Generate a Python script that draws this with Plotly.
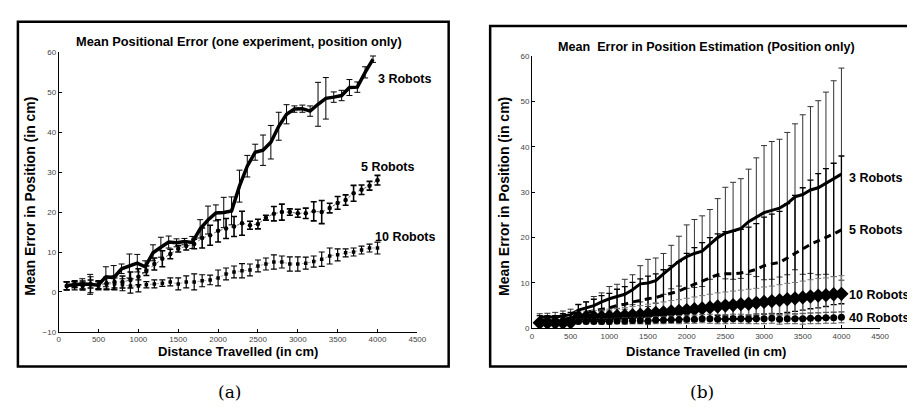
import plotly.graph_objects as go

W, H = 915, 412

# ---------------- data: panel (a) ----------------
x_a3 = [99, 197, 296, 394, 493, 592, 690, 789, 887, 986, 1085, 1183, 1282, 1380, 1479, 1578, 1676, 1775,
        1873, 1972, 2071, 2169, 2268, 2366, 2465, 2564, 2662, 2761, 2859, 2958, 3057, 3155, 3254, 3352,
        3451, 3550, 3648, 3747, 3845, 3944]
y_a3 = [1.6, 1.8, 2.0, 1.9, 1.7, 3.8, 3.6, 5.8, 6.5, 7.2, 6.3, 9.8, 11.2, 12.5, 12.3, 12.6, 12.4, 15.8,
        18.0, 19.8, 19.9, 20.3, 26.5, 31.5, 35.0, 35.5, 37.5, 41.5, 44.5, 45.8, 45.9, 45.3, 47.0, 48.5,
        48.8, 49.2, 51.2, 51.3, 55.0, 58.3]
e_a3 = [1.0, 0.8, 1.3, 2.5, 1.0, 2.5, 3.0, 1.2, 3.0, 2.2, 1.5, 2.0, 2.5, 1.5, 1.0, 0.8, 1.5, 2.3,
        3.5, 2.0, 3.8, 3.5, 4.0, 2.7, 2.0, 3.8, 4.2, 3.5, 2.4, 0.8, 0.9, 1.3, 5.5, 5.2,
        1.3, 1.3, 2.0, 1.3, 1.4, 0.8]

x_a = [100, 200, 300, 400, 500, 600, 700, 800, 900, 1000, 1100, 1200, 1300, 1400, 1500, 1600, 1700,
       1800, 1900, 2000, 2100, 2200, 2300, 2400, 2500, 2600, 2700, 2800, 2900, 3000, 3100, 3200, 3300,
       3400, 3500, 3600, 3700, 3800, 3900, 4000]
y_a5 = [1.5, 2.0, 1.5, 2.0, 1.8, 2.2, 2.5, 2.5, 3.0, 3.8, 5.3, 7.0, 8.3, 9.5, 10.8, 11.5, 12.0,
        13.5, 14.2, 15.3, 15.9, 16.4, 17.2, 16.7, 17.0, 18.6, 19.6, 20.0, 20.0, 19.7, 19.7, 20.2, 20.0,
        21.0, 22.3, 23.0, 24.7, 25.6, 26.6, 28.0]
e_a5 = [1.0, 0.8, 1.0, 1.0, 1.0, 1.5, 1.5, 1.5, 2.0, 2.0, 1.2, 1.5, 2.0, 1.2, 0.8, 1.0, 1.2,
        2.5, 2.5, 2.8, 2.5, 2.5, 3.0, 1.0, 1.2, 0.6, 1.8, 2.0, 0.8, 1.0, 1.3, 2.4, 2.9,
        1.2, 1.6, 1.3, 2.0, 1.2, 1.1, 1.2]
y_a10 = [1.5, 1.5, 1.8, 1.8, 1.5, 2.0, 2.0, 1.8, 1.5, 1.5, 1.8, 2.0, 2.2, 2.5, 2.0, 2.5, 2.5,
         2.8, 3.0, 3.5, 4.5, 5.0, 5.3, 5.5, 6.5, 7.0, 7.5, 7.5, 7.0, 7.0, 7.2, 7.6, 8.2,
         9.0, 9.3, 9.8, 10.0, 10.5, 11.0, 11.0]
e_a10 = [1.0, 1.0, 1.0, 2.0, 1.0, 1.5, 1.5, 1.5, 1.8, 1.5, 0.8, 1.0, 0.8, 1.0, 1.5, 1.5, 2.0,
         1.5, 1.2, 2.0, 1.5, 1.5, 1.8, 1.5, 1.5, 1.5, 1.8, 1.5, 1.8, 1.8, 1.5, 1.4, 1.8,
         2.0, 1.5, 1.0, 1.0, 1.0, 1.0, 1.5]

# ---------------- data: panel (b) ----------------
x_b = x_a
y_b3 = [2.5, 2.5, 2.5, 2.7, 3.0, 4.0, 4.5, 5.0, 5.8, 6.5, 7.0, 7.5, 8.5, 9.8, 10.0, 10.5, 12.0, 13.5,
        14.8, 15.8, 16.5, 17.0, 18.5, 20.0, 21.0, 21.5, 22.0, 23.5, 24.5, 25.5, 26.0, 26.5, 27.5, 29.0,
        29.5, 30.5, 31.0, 32.0, 33.0, 34.0]
e_b3 = [0.7, 0.8, 1.0, 1.1, 1.2, 1.3, 1.3, 2.0, 2.0, 2.7, 2.7, 3.3, 3.3, 4.0, 5.2, 5.0, 4.5, 4.8,
        5.5, 7.0, 7.5, 7.8, 7.7, 8.6, 10.1, 10.7, 11.0, 11.6, 13.1, 14.8, 15.2, 15.2, 15.7, 16.1,
        17.6, 18.4, 19.2, 20.1, 21.6, 23.4]
y_b5 = [1.8, 1.8, 1.8, 2.0, 2.2, 3.2, 3.5, 3.8, 4.2, 4.5, 5.0, 5.3, 5.8, 6.2, 6.5, 6.8, 7.3, 7.8,
        8.2, 9.0, 9.7, 10.5, 11.2, 11.8, 12.0, 12.0, 12.2, 12.5, 13.0, 13.8, 14.2, 14.5, 15.5, 16.5,
        17.5, 18.5, 19.3, 20.0, 20.8, 21.7]
e_b5 = [1.0, 1.0, 1.0, 1.2, 1.3, 2.0, 2.3, 2.6, 3.0, 3.2, 3.6, 3.9, 4.3, 4.7, 5.0, 5.2, 5.6, 6.0,
        6.5, 7.5, 8.1, 8.4, 8.8, 9.0, 9.3, 9.4, 9.6, 9.8, 10.1, 10.7, 11.0, 11.3, 12.0, 12.8,
        13.5, 14.2, 14.8, 15.2, 15.6, 16.3]
y_b10 = [1.2, 1.2, 1.2, 1.2, 1.3, 2.5, 2.5, 2.5, 2.5, 2.6, 2.7, 2.8, 2.9, 3.0, 3.2, 3.4, 3.5, 3.7,
         3.8, 4.0, 4.2, 4.4, 4.6, 4.8, 5.0, 5.1, 5.3, 5.4, 5.6, 5.8, 6.0, 6.2, 6.4, 6.6,
         6.8, 7.0, 7.2, 7.3, 7.5, 7.6]
e_b10 = [0.5, 0.5, 0.5, 0.5, 0.6, 1.2, 1.3, 1.4, 1.5, 1.6, 1.7, 1.8, 1.9, 2.0, 2.1, 2.2, 2.3, 2.4,
         2.5, 2.6, 2.7, 2.8, 2.9, 3.0, 3.0, 3.1, 3.1, 3.2, 3.2, 3.3, 3.3, 3.4, 3.5, 3.5,
         3.6, 3.7, 3.8, 3.8, 3.9, 4.0]
y_b40 = [1.0, 1.0, 1.0, 1.0, 1.0, 1.5, 1.5, 1.5, 1.5, 1.5, 1.6, 1.6, 1.7, 1.7, 1.6, 1.8, 1.8, 1.9,
         1.9, 2.0, 2.0, 2.1, 2.1, 2.0, 2.0, 2.1, 2.1, 2.0, 2.1, 2.1, 2.2, 2.0, 2.1, 2.1,
         2.1, 2.2, 2.2, 2.3, 2.3, 2.4]
e_b40 = [0.3, 0.3, 0.3, 0.3, 0.3, 0.5, 0.5, 0.5, 0.6, 0.6, 0.6, 0.7, 0.7, 0.7, 0.8, 0.8, 0.8, 0.8,
         0.9, 0.9, 0.9, 0.9, 1.0, 1.0, 1.0, 1.0, 1.0, 1.0, 1.1, 1.1, 1.1, 1.1, 1.1, 1.1,
         1.2, 1.2, 1.2, 1.2, 1.2, 1.2]

x_ticks = [0, 500, 1000, 1500, 2000, 2500, 3000, 3500, 4000, 4500]
y_ticks_a = [-10, 0, 10, 20, 30, 40, 50, 60]
y_ticks_b = [0, 10, 20, 30, 40, 50, 60]


def px(x):
    return x / W


def py(y):
    return 1 - y / H


FONT = "Liberation Sans, Arial, Helvetica, sans-serif"


def eb(arr, color="black", thick=1.0, width=3):
    return dict(type="data", array=arr, visible=True, color=color, thickness=thick, width=width)


fig = go.Figure()

# panel (a)
fig.add_trace(go.Scatter(x=x_a, y=y_a10, xaxis="x", yaxis="y", mode="lines+markers",
                         line=dict(color="#aaaaaa", width=1, dash="dot"),
                         marker=dict(symbol="square", size=3.5, color="black"),
                         error_y=eb(e_a10, "black", 1.2, 3)))
fig.add_trace(go.Scatter(x=x_a, y=y_a5, xaxis="x", yaxis="y", mode="lines+markers",
                         line=dict(color="#666666", width=1, dash="dot"),
                         marker=dict(symbol="circle", size=4.5, color="black"),
                         error_y=eb(e_a5, "black", 1.6, 3)))
fig.add_trace(go.Scatter(x=x_a3, y=y_a3, xaxis="x", yaxis="y", mode="lines",
                         line=dict(color="black", width=3.5),
                         error_y=eb(e_a3, "black", 1, 3)))

# panel (b)
fig.add_trace(go.Scatter(x=x_b, y=y_b3, xaxis="x2", yaxis="y2", mode="lines",
                         line=dict(color="black", width=3),
                         error_y=eb(e_b3, "#333333", 1, 3)))
fig.add_trace(go.Scatter(x=x_b, y=y_b5, xaxis="x2", yaxis="y2", mode="lines",
                         line=dict(color="black", width=3, dash="7px,5px"),
                         error_y=eb(e_b5, "black", 1.3, 3)))
fig.add_trace(go.Scatter(x=x_b, y=y_b10, xaxis="x2", yaxis="y2", mode="lines+markers",
                         line=dict(color="black", width=2),
                         marker=dict(symbol="diamond", size=11, color="black"),
                         error_y=eb(e_b10, "#777777", 1, 3)))
fig.add_trace(go.Scatter(x=x_b, y=y_b40, xaxis="x2", yaxis="y2", mode="lines+markers",
                         line=dict(color="black", width=2, dash="4px,3px"),
                         marker=dict(symbol="circle", size=7, color="black"),
                         error_y=eb(e_b40, "#555555", 1, 3)))

axis_common = dict(showgrid=False, zeroline=False, showline=True, linecolor="black", linewidth=1,
                   ticks="inside", ticklen=3, tickcolor="black", mirror=False,
                   tickfont=dict(family=FONT, size=8, color="#444444"))

fig.update_layout(
    width=W, height=H, margin=dict(l=0, r=0, t=0, b=0),
    paper_bgcolor="white", plot_bgcolor="white", showlegend=False,
    xaxis=dict(domain=[px(49.3), px(412.3)], range=[0, 4500], tickvals=x_ticks, anchor="y", **axis_common),
    yaxis=dict(domain=[py(327), py(41.3)], range=[-10, 60], tickvals=y_ticks_a, anchor="x", **axis_common),
    xaxis2=dict(domain=[px(528.3), px(880.7)], range=[0, 4500], tickvals=x_ticks, anchor="y2", **axis_common),
    yaxis2=dict(domain=[py(323.3), py(45.3)], range=[0, 60], tickvals=y_ticks_b, anchor="x2", **axis_common),
)

# frames
fig.add_shape(type="rect", xref="paper", yref="paper", x0=px(8), x1=px(444), y0=py(362.5), y1=py(10),
              line=dict(color="black", width=2.5))
fig.add_shape(type="rect", xref="paper", yref="paper", x0=px(486), x1=px(925), y0=py(362.5), y1=py(14.3),
              line=dict(color="black", width=2.5))


def ann(text, x, y, size, angle=0, family=FONT, bold=True, xanchor="center"):
    fig.add_annotation(text=("<b>%s</b>" % text) if bold else text, x=px(x), y=py(y),
                       xref="paper", yref="paper", showarrow=False, textangle=angle,
                       xanchor=xanchor, yanchor="middle",
                       font=dict(family=family, size=size, color="black"))


# panel (a) texts
ann("Mean Positional Error (one experiment, position only)", 232, 30, 12.8)
ann("Distance Travelled (in cm)", 231, 347, 13)
ann("Mean Error in Position (in cm)", 20, 188, 14, angle=-90)
ann("3 Robots", 370, 69, 12.5, xanchor="left")
ann("5 Robots", 353, 158, 12.5, xanchor="left")
ann("10 Robots", 367, 230, 12.5, xanchor="left")

# panel (b) texts
ann("Mean  Error in Position Estimation (Position only)", 705, 36, 12.6)
ann("Distance Travelled (in cm)", 704, 347, 13)
ann("Mean Error in Position (in cm)", 500, 188, 14, angle=-90)
ann("3 Robots", 847, 170, 12.5, xanchor="left")
ann("5 Robots", 847, 223, 12.5, xanchor="left")
ann("10 Robots", 847, 289, 12.5, xanchor="left")
ann("40 Robots", 847, 313, 12.5, xanchor="left")

# captions
ann("(a)", 222, 388, 17, family="DejaVu Serif, Liberation Serif, serif", bold=False)
ann("(b)", 700, 388, 17, family="DejaVu Serif, Liberation Serif, serif", bold=False)

fig.write_html("out.html")
